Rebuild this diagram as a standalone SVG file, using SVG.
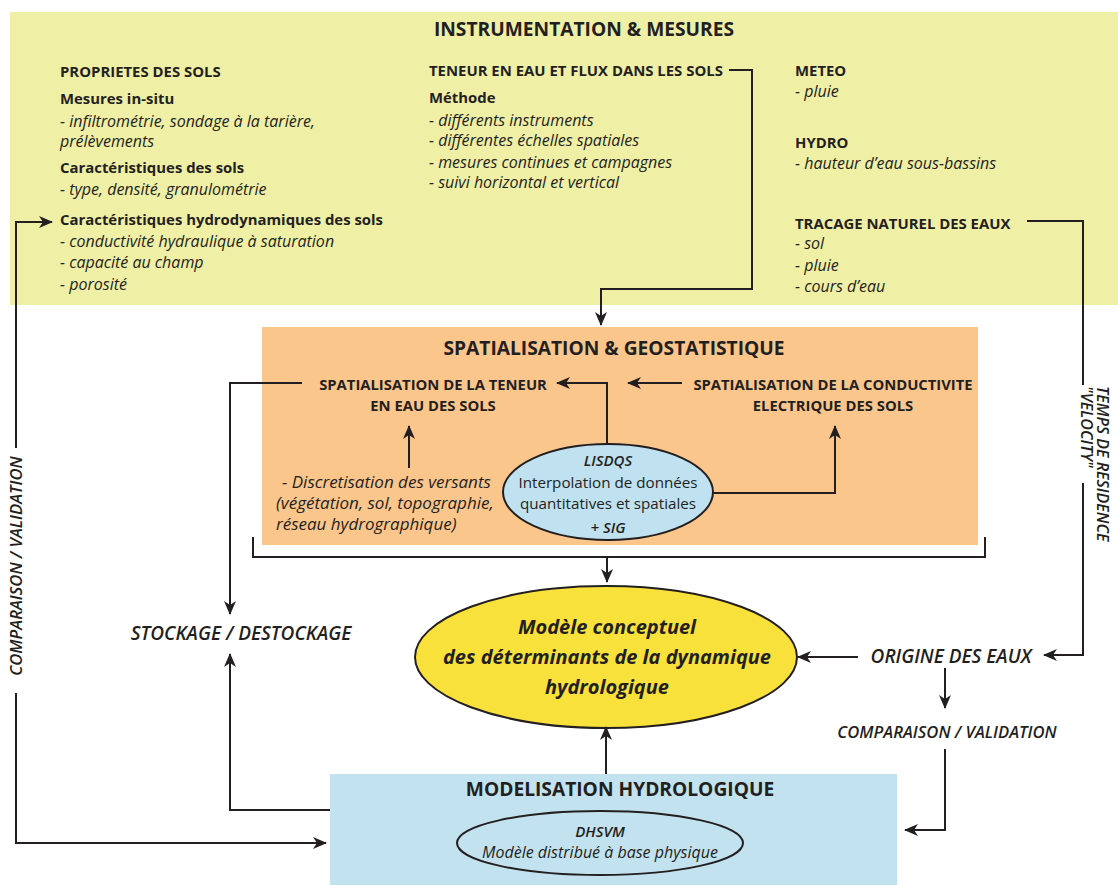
<svg xmlns="http://www.w3.org/2000/svg" width="1118" height="885" viewBox="0 0 1118 885">
<style>
text{font-family:"Open Sans",Lato,"Liberation Sans",sans-serif;fill:#231f20}
.h1{font-size:19.2px;font-weight:bold}
.h2{font-size:14.9px;font-weight:bold}
.b{font-size:16px;font-style:italic}
.d{font-size:17px;font-style:italic}
.r{font-size:15.2px}
.sh{font-size:14.8px;font-weight:bold}
.lbl{font-size:19px;font-weight:600;font-style:italic}
.lbs{font-size:16.6px;font-weight:600;font-style:italic}
.big{font-size:20px;font-weight:bold;font-style:italic}
.ln{fill:none;stroke:#231f20;stroke-width:2}
.ar{marker-end:url(#ah)}
</style>
<defs>
<marker id="ah" viewBox="0 0 14 12" refX="13" refY="6" markerWidth="14" markerHeight="12" orient="auto" markerUnits="userSpaceOnUse"><path d="M0,0 L14,6 L0,12 L4,6 z" fill="#231f20"/></marker>
</defs>
<rect width="1118" height="885" fill="#fff"/>

<g id="instrumentation">
<rect x="10" y="12" width="1108" height="293" fill="#f0efa6"/>
<text class="h1" x="584" y="36" text-anchor="middle">INSTRUMENTATION &amp; MESURES</text>
<text class="h2" x="60" y="77">PROPRIETES DES SOLS</text>
<text class="h2" x="60" y="104">Mesures in-situ</text>
<text class="b" x="60" y="127">- infiltrométrie, sondage à la tarière,</text>
<text class="b" x="60" y="147">prélèvements</text>
<text class="h2" x="60" y="173">Caractéristiques des sols</text>
<text class="b" x="60" y="195">- type, densité, granulométrie</text>
<text class="h2" x="60" y="225">Caractéristiques hydrodynamiques des sols</text>
<text class="b" x="60" y="247">- conductivité hydraulique à saturation</text>
<text class="b" x="60" y="268">- capacité au champ</text>
<text class="b" x="60" y="290">- porosité</text>

<text class="h2" x="429" y="76">TENEUR EN EAU ET FLUX DANS LES SOLS</text>
<text class="h2" x="429" y="103">Méthode</text>
<text class="b" x="429" y="126">- différents instruments</text>
<text class="b" x="429" y="146">- différentes échelles spatiales</text>
<text class="b" x="429" y="168">- mesures continues et campagnes</text>
<text class="b" x="429" y="188">- suivi horizontal et vertical</text>

<text class="h2" x="795" y="76">METEO</text>
<text class="b" x="795" y="97">- pluie</text>
<text class="h2" x="795" y="148">HYDRO</text>
<text class="b" x="795" y="169">- hauteur d’eau sous-bassins</text>
<text class="h2" x="795" y="229">TRACAGE NATUREL DES EAUX</text>
<text class="b" x="795" y="249">- sol</text>
<text class="b" x="795" y="271">- pluie</text>
<text class="b" x="795" y="292">- cours d’eau</text>
</g>

<g id="spatialisation">
<rect x="262" y="327" width="716" height="218" fill="#fac68c"/>
<text class="h1" x="614" y="355" text-anchor="middle">SPATIALISATION &amp; GEOSTATISTIQUE</text>
<text class="sh" x="433" y="390" text-anchor="middle">SPATIALISATION DE LA TENEUR</text>
<text class="sh" x="433" y="411" text-anchor="middle">EN EAU DES SOLS</text>
<text class="sh" x="833" y="390" text-anchor="middle">SPATIALISATION DE LA CONDUCTIVITE</text>
<text class="sh" x="833" y="411" text-anchor="middle">ELECTRIQUE DES SOLS</text>
<text class="d" x="282" y="488">- Discretisation des versants</text>
<text class="d" x="276" y="509">(végétation, sol, topographie,</text>
<text class="d" x="276" y="530">réseau hydrographique)</text>
</g>

<g id="lisdqs">
<ellipse cx="608" cy="492" rx="105" ry="48" fill="#bfe1f0" stroke="#231f20" stroke-width="2"/>
<text class="lbs" x="608" y="466" text-anchor="middle" style="font-size:15px">LISDQS</text>
<text class="r" x="608" y="488" text-anchor="middle">Interpolation de données</text>
<text class="r" x="608" y="509" text-anchor="middle">quantitatives et spatiales</text>
<text class="lbs" x="608" y="533" text-anchor="middle" style="font-size:15px">+ SIG</text>
</g>

<g id="modele">
<ellipse cx="606" cy="657" rx="191" ry="71" fill="#f9e13b" stroke="#231f20" stroke-width="2"/>
<text class="big" x="607" y="634" text-anchor="middle">Modèle conceptuel</text>
<text class="big" x="607" y="664" text-anchor="middle">des déterminants de la dynamique</text>
<text class="big" x="607" y="694" text-anchor="middle">hydrologique</text>
</g>

<g id="modelisation">
<rect x="330" y="774" width="567" height="111" fill="#c3e2ef"/>
<text class="h1" x="620" y="796" text-anchor="middle">MODELISATION HYDROLOGIQUE</text>
<ellipse cx="600" cy="843" rx="143" ry="32" fill="none" stroke="#231f20" stroke-width="2"/>
<text class="lbs" x="600" y="837" text-anchor="middle" style="font-size:15px">DHSVM</text>
<text class="b" x="600" y="858" text-anchor="middle">Modèle distribué à base physique</text>
</g>

<g id="labels">
<text class="lbl" x="241" y="640" text-anchor="middle">STOCKAGE / DESTOCKAGE</text>
<text class="lbl" x="951" y="663" text-anchor="middle">ORIGINE DES EAUX</text>
<text class="lbs" x="947" y="738" text-anchor="middle">COMPARAISON / VALIDATION</text>
<text class="lbs" transform="translate(22,566) rotate(-90)" text-anchor="middle">COMPARAISON / VALIDATION</text>
<text class="lbs" transform="translate(1097,386) rotate(90)" style="font-size:16px">TEMPS DE RESIDENCE</text>
<text class="lbs" transform="translate(1081,386) rotate(90)" style="font-size:16px">"VELOCITY"</text>
</g>

<g id="connectors">
<path class="ln ar" d="M729,70 H752 V289 H601 V325"/>
<path class="ln" d="M1027,221 H1083 V385"/>
<path class="ln ar" d="M1083,483 V655 H1044"/>
<path class="ln ar" d="M16,448 V222 H52"/>
<path class="ln ar" d="M16,693 V843 H326"/>
<path class="ln ar" d="M302,383 H230 V614"/>
<path class="ln ar" d="M330,810 H230 V654"/>
<path class="ln ar" d="M607,445 V383 H557"/>
<path class="ln ar" d="M682,383 H628"/>
<path class="ln ar" d="M409,468 V426"/>
<path class="ln ar" d="M713,493 H835 V426"/>
<path class="ln" d="M253,537 V557 H985 V537"/>
<path class="ln ar" d="M607,557 V582"/>
<path class="ln ar" d="M858,657 H798"/>
<path class="ln ar" d="M945,668 V708"/>
<path class="ln ar" d="M945,749 V830 H905"/>
<path class="ln ar" d="M606,774 V727"/>
</g>
</svg>
